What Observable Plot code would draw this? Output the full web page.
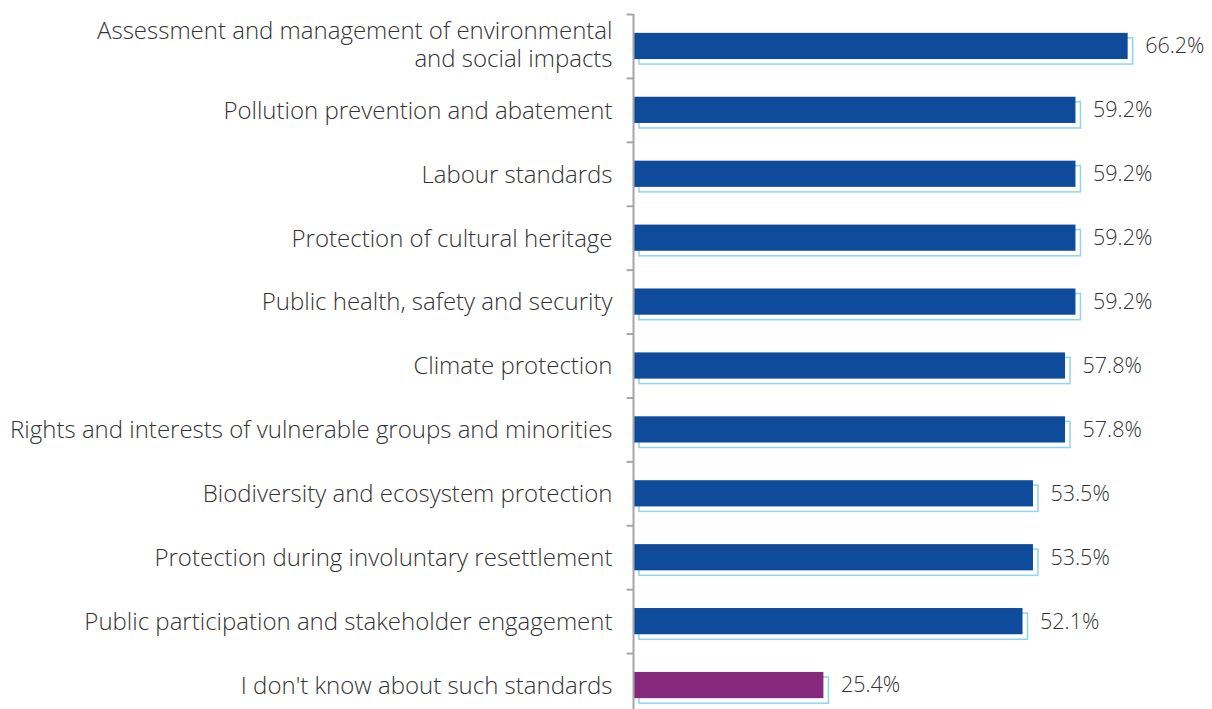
<!DOCTYPE html>
<html>
<head>
<meta charset="utf-8">
<script src="https://cdn.jsdelivr.net/npm/d3@7"></script>
<script src="https://cdn.jsdelivr.net/npm/@observablehq/plot@0.6"></script>
<style>
  html, body { margin: 0; padding: 0; background: #fff; }
  #chart { width: 1212px; height: 709px; overflow: hidden; }
</style>
</head>
<body>
<div id="chart"></div>
<script>
const categories = [
  "Assessment and management of environmental\nand social impacts",
  "Pollution prevention and abatement",
  "Labour standards",
  "Protection of cultural heritage",
  "Public health, safety and security",
  "Climate protection",
  "Rights and interests of vulnerable groups and minorities",
  "Biodiversity and ecosystem protection",
  "Protection during involuntary resettlement",
  "Public participation and stakeholder engagement",
  "I don't know about such standards"
];
const values = [66.2, 59.2, 59.2, 59.2, 59.2, 57.8, 57.8, 53.5, 53.5, 52.1, 25.4];
const groups = ["standard","standard","standard","standard","standard","standard","standard","standard","standard","standard","unknown"];

const data = categories.map((c, i) => ({category: c, value: values[i], group: groups[i]}));
const singleLine = data.filter(d => !d.category.includes("\n"));
const multiLine = data.filter(d => d.category.includes("\n"));

const W = 1212, H = 709;
const yTop = 14, yBottom = 717;
const step = (yBottom - yTop) / categories.length;
const fmt = d => d3.format(".1f")(d) + "%";

const labelOpts = {y: "category", x: 0, text: "category", textAnchor: "end", dx: -22, lineHeight: 1.155, fill: "#333", fontSize: 24, fontWeight: 300};

const chart = Plot.plot({
  width: W,
  height: H,
  marginLeft: 634,
  marginRight: 56,
  marginTop: yTop,
  marginBottom: 0,
  style: {fontFamily: "'Open Sans', sans-serif", fontSize: "24px", color: "#333", background: "#fff"},
  x: {domain: [0, 70], axis: null},
  y: {domain: categories, range: [yTop, yBottom], paddingInner: 0.59, paddingOuter: 0.295, round: false, axis: null},
  color: {domain: ["standard", "unknown"], range: ["#0e4b9b", "#86287c"]},
  marks: [
    // offset outline "shadow"
    Plot.barX(data, {y: "category", x: "value", fill: "none", stroke: "#8fd5ea", strokeWidth: 1.5, dx: 5, dy: 5}),
    Plot.barX(data, {y: "category", x: "value", fill: "group"}),
    // axis line
    Plot.ruleX([0], {stroke: "#a6a6a6", strokeWidth: 2, dx: -1}),
    // ticks at band boundaries
    Plot.ruleY(categories, {y: d => d, x1: -0.85, x2: 0, dy: -step / 2, dx: -1, stroke: "#a6a6a6", strokeWidth: 2}),
    // category labels
    Plot.text(singleLine, {...labelOpts, dy: -0.5}),
    Plot.text(multiLine, {...labelOpts, dy: -2.5}),
    // value labels
    Plot.text(data, {y: "category", x: "value", text: d => fmt(d.value), textAnchor: "start", dx: 17, fill: "#333", fontSize: 21.5, fontWeight: 300})
  ]
});
document.getElementById("chart").appendChild(chart);
</script>
</body>
</html>
